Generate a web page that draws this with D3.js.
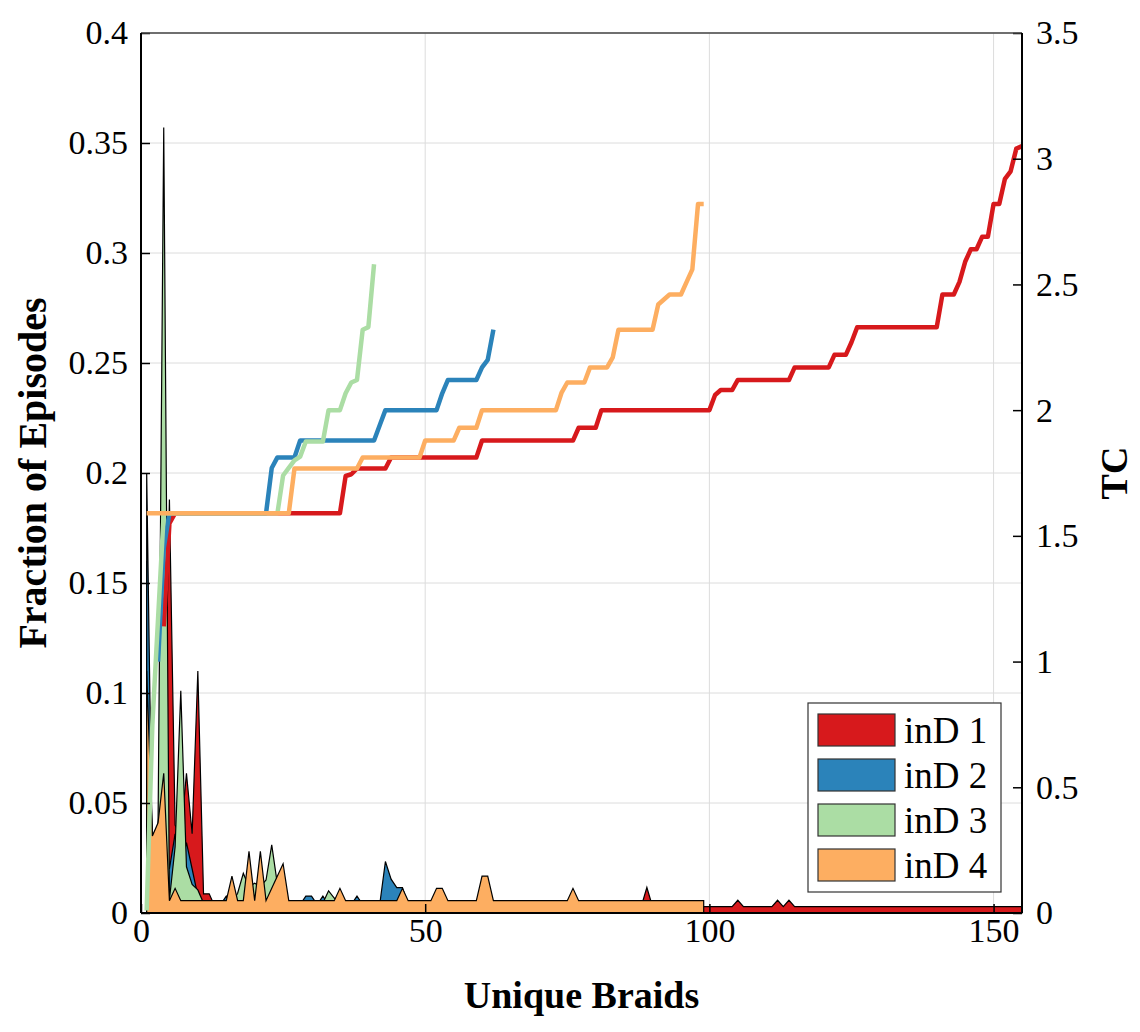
<!DOCTYPE html>
<html>
<head>
<meta charset="utf-8">
<script src="https://cdn.jsdelivr.net/npm/d3@7"></script>
<style>
  body { margin: 0; background: #fff; }
  text { font-family: "Liberation Serif", "DejaVu Serif", serif; }
</style>
</head>
<body>
<svg id="chart" width="1140" height="1032"></svg>
<script>
// series names and colours
var names = ["inD 1", "inD 2", "inD 3", "inD 4"];
var colors = ["#d7191c", "#2b83ba", "#abdda4", "#fdae61"];

// fraction of episodes per unique braid (braid index starts at 1)
var redFrac = [
  0.16, 0.03, 0.04, 0.06, 0.188, 0.04, 0.035, 0.0635, 0.036, 0.11,
  0.0087, 0.0087, 0.0029, 0.0029, 0.0029, 0.0029, 0.0029, 0.0029, 0.0029, 0.0029,
  0.0029, 0.0029, 0.0029, 0.0029, 0.0029, 0.0029, 0.0029, 0.0029, 0.0029, 0.0029,
  0.0029, 0.0029, 0.0029, 0.0029, 0.0029, 0.0029, 0.0029, 0.0029, 0.0029, 0.0029,
  0.0029, 0.0029, 0.0029, 0.0029, 0.0029, 0.0029, 0.0029, 0.0029, 0.0029, 0.0029,
  0.0029, 0.0029, 0.0029, 0.0029, 0.0029, 0.0029, 0.0029, 0.0029, 0.0029, 0.0029,
  0.0029, 0.0029, 0.0029, 0.0029, 0.0029, 0.0029, 0.0029, 0.0029, 0.0029, 0.0029,
  0.0029, 0.0029, 0.0029, 0.0029, 0.0029, 0.0029, 0.0029, 0.0029, 0.0029, 0.0029,
  0.0029, 0.0029, 0.0029, 0.0029, 0.0029, 0.0029, 0.0029, 0.0029, 0.0116, 0.0029,
  0.0029, 0.0029, 0.0029, 0.0029, 0.0029, 0.0029, 0.0029, 0.0029, 0.0029, 0.0029,
  0.0029, 0.0029, 0.0029, 0.0029, 0.0058, 0.0029, 0.0029, 0.0029, 0.0029, 0.0029,
  0.0029, 0.0058, 0.0029, 0.0058, 0.0029, 0.0029, 0.0029, 0.0029, 0.0029, 0.0029,
  0.0029, 0.0029, 0.0029, 0.0029, 0.0029, 0.0029, 0.0029, 0.0029, 0.0029, 0.0029,
  0.0029, 0.0029, 0.0029, 0.0029, 0.0029, 0.0029, 0.0029, 0.0029, 0.0029, 0.0029,
  0.0029, 0.0029, 0.0029, 0.0029, 0.0029, 0.0029, 0.0029, 0.0029, 0.0029, 0.0029,
  0.0029, 0.0029, 0.0029, 0.0029, 0.0029
];
var blueFrac = [
  0.2, 0.02, 0.03, 0.05, 0.02, 0.036, 0.02, 0.032, 0.02, 0.0077,
  0.0038, 0.0038, 0.0038, 0.0038, 0.0077, 0.0038, 0.0038, 0.0038, 0.0038, 0.0038,
  0.0038, 0.0038, 0.0038, 0.0038, 0.0038, 0.0038, 0.0038, 0.0038, 0.0077, 0.0077,
  0.0038, 0.0077, 0.0038, 0.0038, 0.0038, 0.0038, 0.0038, 0.0077, 0.0038, 0.0038,
  0.0038, 0.0038, 0.0234, 0.0154, 0.0115, 0.0115, 0.0038, 0.0038, 0.0038, 0.0038,
  0.0038, 0.0038, 0.0038, 0.0038, 0.0038, 0.0038, 0.0038, 0.0038, 0.0038, 0.0038,
  0.0038, 0.0038
];
var greenFrac = [
  0.085, 0.035, 0.04, 0.357, 0.006, 0.03, 0.101, 0.021, 0.013, 0.0105,
  0.0045, 0.0045, 0.0045, 0.0045, 0.0045, 0.0045, 0.009, 0.018, 0.012, 0.0135,
  0.012, 0.015, 0.031, 0.013, 0.0045, 0.0045, 0.0045, 0.0045, 0.0045, 0.0045,
  0.0045, 0.0045, 0.0101, 0.0068, 0.0045, 0.0045, 0.0045, 0.0045, 0.0045, 0.0045,
  0.0045
];
var orangeFrac = [
  0.11, 0.035, 0.041, 0.0635, 0.0056, 0.0112, 0.0056, 0.0056, 0.0056, 0.0056,
  0.0056, 0.0056, 0.0056, 0.0056, 0.0056, 0.0168, 0.0056, 0.0056, 0.028, 0.0056,
  0.028, 0.0056, 0.0112, 0.0168, 0.0224, 0.0056, 0.0056, 0.0056, 0.0056, 0.0056,
  0.0056, 0.0056, 0.0056, 0.0056, 0.0112, 0.0056, 0.0056, 0.0056, 0.0056, 0.0056,
  0.0056, 0.0056, 0.0056, 0.0056, 0.0056, 0.0112, 0.0056, 0.0056, 0.0056, 0.0056,
  0.0056, 0.0112, 0.0112, 0.0056, 0.0056, 0.0056, 0.0056, 0.0056, 0.0056, 0.0168,
  0.0168, 0.0056, 0.0056, 0.0056, 0.0056, 0.0056, 0.0056, 0.0056, 0.0056, 0.0056,
  0.0056, 0.0056, 0.0056, 0.0056, 0.0056, 0.0112, 0.0056, 0.0056, 0.0056, 0.0056,
  0.0056, 0.0056, 0.0056, 0.0056, 0.0056, 0.0056, 0.0056, 0.0056, 0.0056, 0.0056,
  0.0056, 0.0056, 0.0056, 0.0056, 0.0056, 0.0056, 0.0056, 0.0056, 0.0056
];

// TC per unique braid (right axis); first braid index of each line
var tcStart = [4, 3, 1, 1];
var redTC = [
  1.14, 1.55, 1.59, 1.59, 1.59, 1.59, 1.59, 1.59, 1.59, 1.59,
  1.59, 1.59, 1.59, 1.59, 1.59, 1.59, 1.59, 1.59, 1.59, 1.59,
  1.59, 1.59, 1.59, 1.59, 1.59, 1.59, 1.59, 1.59, 1.59, 1.59,
  1.59, 1.59, 1.738, 1.745, 1.768, 1.768, 1.768, 1.768, 1.768, 1.768,
  1.812, 1.812, 1.812, 1.812, 1.812, 1.812, 1.812, 1.812, 1.812, 1.812,
  1.812, 1.812, 1.812, 1.812, 1.812, 1.812, 1.879, 1.879, 1.879, 1.879,
  1.879, 1.879, 1.879, 1.879, 1.879, 1.879, 1.879, 1.879, 1.879, 1.879,
  1.879, 1.879, 1.879, 1.93, 1.93, 1.93, 1.93, 2.0, 2.0, 2.0,
  2.0, 2.0, 2.0, 2.0, 2.0, 2.0, 2.0, 2.0, 2.0, 2.0,
  2.0, 2.0, 2.0, 2.0, 2.0, 2.0, 2.0, 2.06, 2.08, 2.08,
  2.08, 2.12, 2.12, 2.12, 2.12, 2.12, 2.12, 2.12, 2.12, 2.12,
  2.12, 2.17, 2.17, 2.17, 2.17, 2.17, 2.17, 2.17, 2.22, 2.22,
  2.22, 2.27, 2.33, 2.33, 2.33, 2.33, 2.33, 2.33, 2.33, 2.33,
  2.33, 2.33, 2.33, 2.33, 2.33, 2.33, 2.33, 2.46, 2.46, 2.46,
  2.51, 2.59, 2.64, 2.64, 2.69, 2.69, 2.82, 2.82, 2.92, 2.95,
  3.04, 3.05
];
var blueTC = [
  1.0, 1.45, 1.59, 1.59, 1.59, 1.59, 1.59, 1.59, 1.59, 1.59,
  1.59, 1.59, 1.59, 1.59, 1.59, 1.59, 1.59, 1.59, 1.59, 1.59,
  1.77, 1.812, 1.812, 1.812, 1.812, 1.879, 1.879, 1.879, 1.879, 1.879,
  1.879, 1.879, 1.879, 1.879, 1.879, 1.879, 1.879, 1.879, 1.879, 1.94,
  2.0, 2.0, 2.0, 2.0, 2.0, 2.0, 2.0, 2.0, 2.0, 2.0,
  2.067, 2.12, 2.12, 2.12, 2.12, 2.12, 2.12, 2.17, 2.2, 2.32
];
var greenTC = [
  0.01, 0.75, 1.17, 1.59, 1.59, 1.59, 1.59, 1.59, 1.59, 1.59,
  1.59, 1.59, 1.59, 1.59, 1.59, 1.59, 1.59, 1.59, 1.59, 1.59,
  1.59, 1.59, 1.59, 1.59, 1.74, 1.77, 1.80, 1.815, 1.875, 1.875,
  1.875, 1.875, 2.0, 2.0, 2.0, 2.067, 2.11, 2.12, 2.32, 2.33,
  2.58
];
var orangeTC = [
  1.59, 1.59, 1.59, 1.59, 1.59, 1.59, 1.59, 1.59, 1.59, 1.59,
  1.59, 1.59, 1.59, 1.59, 1.59, 1.59, 1.59, 1.59, 1.59, 1.59,
  1.59, 1.59, 1.59, 1.59, 1.59, 1.59, 1.768, 1.768, 1.768, 1.768,
  1.768, 1.768, 1.768, 1.768, 1.768, 1.768, 1.768, 1.768, 1.812, 1.812,
  1.812, 1.812, 1.812, 1.812, 1.812, 1.812, 1.812, 1.812, 1.812, 1.879,
  1.879, 1.879, 1.879, 1.879, 1.879, 1.93, 1.93, 1.93, 1.93, 2.0,
  2.0, 2.0, 2.0, 2.0, 2.0, 2.0, 2.0, 2.0, 2.0, 2.0,
  2.0, 2.0, 2.0, 2.07, 2.11, 2.11, 2.11, 2.11, 2.17, 2.17,
  2.17, 2.17, 2.21, 2.32, 2.32, 2.32, 2.32, 2.32, 2.32, 2.32,
  2.42, 2.44, 2.46, 2.46, 2.46, 2.51, 2.56, 2.82, 2.82
];

// tick values
var xTicks = [0, 50, 100, 150];
var yLeftTicks = [0, 0.05, 0.1, 0.15, 0.2, 0.25, 0.3, 0.35, 0.4];
var yRightTicks = [0, 0.5, 1, 1.5, 2, 2.5, 3, 3.5];

var fracs = [redFrac, blueFrac, greenFrac, orangeFrac];
var tcs = [redTC, blueTC, greenTC, orangeTC];

var L = 141, R = 1022, T = 33, B = 913;
var svg = d3.select("#chart");

var x = d3.scaleLinear().domain([0, 155]).range([L, R]);
var yL = d3.scaleLinear().domain([0, 0.4]).range([B, T]);
var yR = d3.scaleLinear().domain([0, 3.5]).range([B, T]);

svg.append("rect").attr("width", 1140).attr("height", 1032).attr("fill", "#fff");

// grid
var grid = svg.append("g").attr("stroke", "#dcdcdc").attr("stroke-width", 1);
yLeftTicks.forEach(function(t){
  grid.append("line").attr("x1", L).attr("x2", R).attr("y1", yL(t)).attr("y2", yL(t));
});
xTicks.forEach(function(t){
  grid.append("line").attr("x1", x(t)).attr("x2", x(t)).attr("y1", T).attr("y2", B);
});

// areas (overlaid, not stacked)
var area = d3.area()
  .x(function(d, i){ return x(i + 1); })
  .y0(yL(0))
  .y1(function(d){ return yL(d); });

fracs.forEach(function(f, k){
  svg.append("path")
    .attr("d", area(f))
    .attr("fill", colors[k])
    .attr("stroke", "#000")
    .attr("stroke-width", 1.2)
    .attr("stroke-linejoin", "miter");
});

// TC lines
tcs.forEach(function(t, k){
  var line = d3.line()
    .x(function(d, i){ return x(i + tcStart[k]); })
    .y(function(d){ return yR(d); });
  svg.append("path")
    .attr("d", line(t))
    .attr("fill", "none")
    .attr("stroke", colors[k])
    .attr("stroke-width", 4.5)
    .attr("stroke-linejoin", "round");
});

// axes
var fmt = d3.format("~g");
var axisLeft = d3.axisLeft(yL).tickValues(yLeftTicks).tickSize(-9).tickPadding(13).tickFormat(fmt);
var axisRight = d3.axisRight(yR).tickValues(yRightTicks).tickSize(-9).tickPadding(14).tickFormat(fmt);
var axisBottom = d3.axisBottom(x).tickValues(xTicks).tickSize(-9).tickPadding(5);

function styleAxis(g){
  g.select(".domain").remove();
  g.selectAll(".tick line").attr("stroke", "#000").attr("stroke-width", 1.5);
  g.selectAll(".tick text").attr("font-size", 34)
    .attr("font-family", "Liberation Serif, DejaVu Serif, serif").attr("fill", "#000");
}
svg.append("g").attr("transform", "translate(" + L + ",0)").call(axisLeft).call(styleAxis);
svg.append("g").attr("transform", "translate(" + R + ",0)").call(axisRight).call(styleAxis);
svg.append("g").attr("transform", "translate(0," + B + ")").call(axisBottom).call(styleAxis);

// box
svg.append("line").attr("x1", L).attr("x2", R).attr("y1", T).attr("y2", T)
  .attr("stroke", "#444").attr("stroke-width", 1.5);
svg.append("line").attr("x1", L).attr("x2", R).attr("y1", B).attr("y2", B)
  .attr("stroke", "#000").attr("stroke-width", 2);
svg.append("line").attr("x1", L).attr("x2", L).attr("y1", T).attr("y2", B)
  .attr("stroke", "#000").attr("stroke-width", 2);
svg.append("line").attr("x1", R).attr("x2", R).attr("y1", T).attr("y2", B)
  .attr("stroke", "#000").attr("stroke-width", 2);

// axis titles
svg.append("text")
  .attr("x", (L + R) / 2).attr("y", 1008)
  .attr("text-anchor", "middle").attr("font-size", 38).attr("font-weight", "bold")
  .text("Unique Braids");
svg.append("text")
  .attr("transform", "translate(46," + (T + B) / 2 + ") rotate(-90)")
  .attr("text-anchor", "middle").attr("font-size", 40).attr("font-weight", "bold")
  .text("Fraction of Episodes");
svg.append("text")
  .attr("transform", "translate(1127," + (T + B) / 2 + ") rotate(-90)")
  .attr("text-anchor", "middle").attr("font-size", 38).attr("font-weight", "bold")
  .text("TC");

// legend
var lg = svg.append("g");
lg.append("rect").attr("x", 808).attr("y", 703).attr("width", 193).attr("height", 189)
  .attr("fill", "#fff").attr("stroke", "#333").attr("stroke-width", 1.2);
names.forEach(function(n, k){
  var yy = 714 + 45 * k;
  lg.append("rect").attr("x", 818).attr("y", yy).attr("width", 77).attr("height", 32)
    .attr("fill", colors[k]).attr("stroke", "#333").attr("stroke-width", 1.2);
  lg.append("text").attr("x", 904).attr("y", yy + 29)
    .attr("font-size", 37).text(n);
});
</script>
</body>
</html>
